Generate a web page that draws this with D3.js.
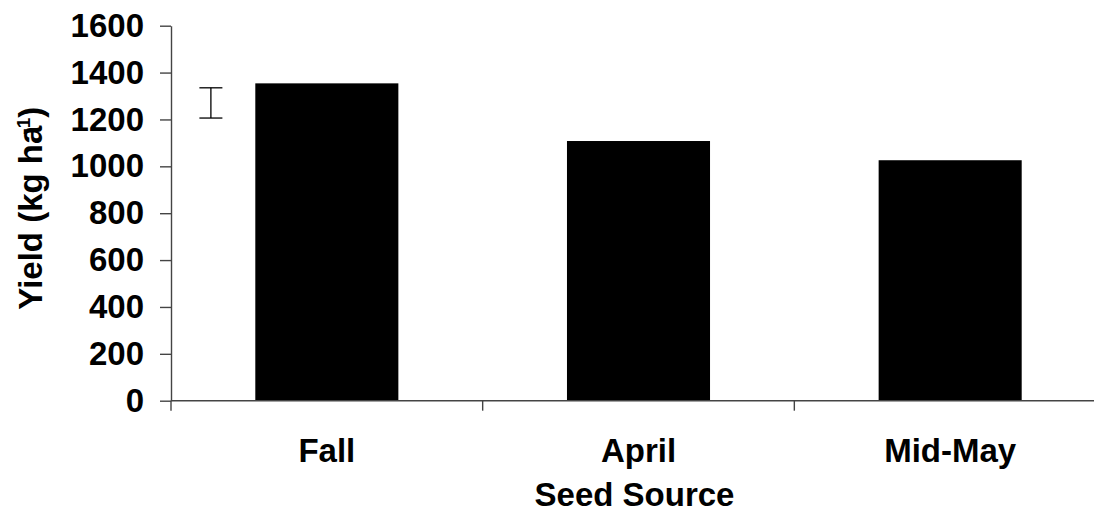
<!DOCTYPE html>
<html>
<head>
<meta charset="utf-8">
<script src="https://cdn.jsdelivr.net/npm/d3@7"></script>
<style>
  body { margin: 0; background: #fff; }
  text { font-family: 'Liberation Sans', Arial, sans-serif; font-weight: bold; fill: #000; }
</style>
</head>
<body>
<svg id="chart" width="1094" height="521"></svg>
<script>
// Data
var categories = ['Fall', 'April', 'Mid-May']
var yields = [1354, 1108, 1026]
var yTicks = [0, 200, 400, 600, 800, 1000, 1200, 1400, 1600]
// LSD-style error bar shown left of the first bar
var errLow = 1206
var errHigh = 1335

var conf = {
  left: 171,
  right: 1106,
  top: 25.7,
  bottom: 400.7,
  fontSize: 33
}

var svg = d3.select('#chart')

var x = d3.scaleBand()
  .domain(categories)
  .range([conf.left, conf.right])
  .paddingInner(0.541)
  .paddingOuter(0.2705)

var y = d3.scaleLinear()
  .domain([0, 1600])
  .range([conf.bottom, conf.top])

// Bars
svg.selectAll('rect.bar')
  .data(yields)
  .enter()
  .append('rect')
  .attr('class', 'bar')
  .attr('x', function (d, i) { return x(categories[i]) })
  .attr('y', function (d) { return y(d) })
  .attr('width', x.bandwidth())
  .attr('height', function (d) { return y(0) - y(d) })
  .attr('fill', '#000')

// Y axis
var yAxis = svg.append('g')
  .attr('transform', 'translate(' + conf.left + ',0)')
  .call(d3.axisLeft(y).tickValues(yTicks).tickFormat(d3.format('d'))
    .tickSize(11).tickPadding(16).tickSizeOuter(0))
yAxis.select('.domain').attr('stroke', '#444').attr('stroke-width', 1.4)
yAxis.selectAll('.tick line').attr('stroke', '#444').attr('stroke-width', 1.4)
yAxis.selectAll('.tick text')
  .style('font-size', conf.fontSize + 'px')
  .style('font-family', "'Liberation Sans', Arial, sans-serif")
  .style('font-weight', 'bold')
  .attr('fill', '#000')

// X axis (labels at band centers)
var xAxis = svg.append('g')
  .attr('transform', 'translate(0,' + conf.bottom + ')')
  .call(d3.axisBottom(x).tickSize(0).tickPadding(38).tickSizeOuter(0))
xAxis.select('.domain').attr('stroke', '#444').attr('stroke-width', 1.4)
  .attr('d', 'M' + conf.left + ',0H' + conf.right)
xAxis.selectAll('.tick text')
  .style('font-size', conf.fontSize + 'px')
  .style('font-family', "'Liberation Sans', Arial, sans-serif")
  .style('font-weight', 'bold')
  .attr('fill', '#000')

// Category boundary ticks
var boundaries = categories.map(function (c) {
  return x(c) - x.step() * x.paddingInner() / 2
}).concat([conf.right])
svg.selectAll('line.cat-tick')
  .data(boundaries)
  .enter()
  .append('line')
  .attr('class', 'cat-tick')
  .attr('x1', function (d) { return d })
  .attr('x2', function (d) { return d })
  .attr('y1', conf.bottom)
  .attr('y2', conf.bottom + 10)
  .attr('stroke', '#444')
  .attr('stroke-width', 1.4)

// Error bar
var ex = conf.left + x.step() * 0.128
var capHalf = 11.5
var err = svg.append('g').attr('stroke', '#000').attr('stroke-width', 1.3)
err.append('line').attr('x1', ex).attr('x2', ex).attr('y1', y(errHigh)).attr('y2', y(errLow))
err.append('line').attr('x1', ex - capHalf).attr('x2', ex + capHalf).attr('y1', y(errHigh)).attr('y2', y(errHigh))
err.append('line').attr('x1', ex - capHalf).attr('x2', ex + capHalf).attr('y1', y(errLow)).attr('y2', y(errLow))

// Axis titles
svg.append('text')
  .attr('x', (conf.left + conf.right) / 2 - 4)
  .attr('y', 506)
  .attr('text-anchor', 'middle')
  .style('font-size', conf.fontSize + 'px')
  .text('Seed Source')

var yTitle = svg.append('text')
  .attr('transform', 'translate(42,' + ((conf.top + conf.bottom) / 2 - 5) + ') rotate(-90)')
  .attr('text-anchor', 'middle')
  .style('font-size', conf.fontSize + 'px')
yTitle.append('tspan').text('Yield (kg ha')
yTitle.append('tspan').attr('dy', -12).attr('dx', -9).style('font-size', '19px').text('-1')
yTitle.append('tspan').attr('dy', 12).text(')')
</script>
</body>
</html>
